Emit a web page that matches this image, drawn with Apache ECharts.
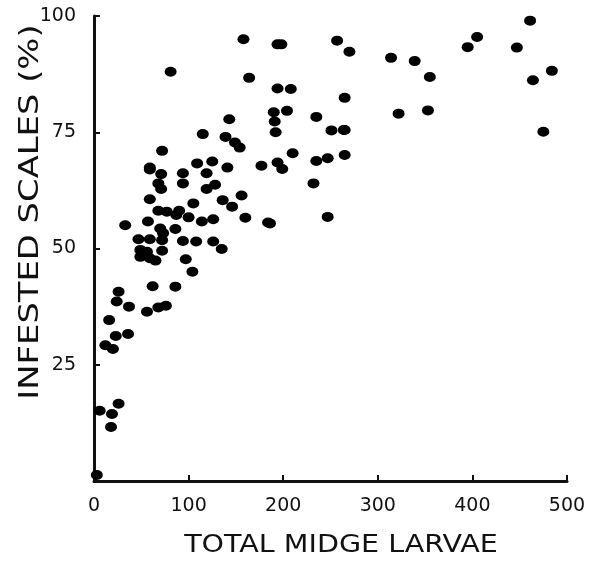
<!DOCTYPE html>
<html>
<head>
<meta charset="utf-8">
<script src="https://cdn.jsdelivr.net/npm/echarts@6/dist/echarts.min.js"></script>
<style>html,body{margin:0;padding:0;background:#fff;}#c{width:591px;height:565px;}</style>
</head>
<body>
<div id="c"></div>
<script>
// Total midge larvae (x) vs infested scales % (y)
const larvae = [
  3, 6, 19, 26, 18,
  12, 20, 23, 36, 16,
  26, 24, 37, 56, 68, 76, 62, 86,
  104, 97, 49, 56, 72, 54, 49, 59, 65,
  47, 59, 72, 94, 108, 126, 135,
  70, 73, 86, 33, 57, 114, 126, 160, 184,
  68, 77, 90, 87, 100,
  105, 136, 146, 156, 59,
  68, 71, 119, 128,
  59, 71, 94, 94, 119,
  59, 109, 125, 141, 177,
  72, 81, 115, 139, 149, 154,
  143, 164, 158,
  194, 199, 232, 247, 265, 186,
  210, 194, 235, 247, 265,
  190, 191, 192, 204, 235, 251, 264, 265,
  194, 208, 322, 353, 355,
  198, 257, 270, 314, 339, 395, 405, 447, 461, 464, 484, 475
];
const infested = [
  1.3, 15.1, 14.4, 16.6, 11.6,
  29.2, 28.4, 31.2, 31.6, 34.6,
  40.7, 38.6, 37.5, 36.4, 37.3, 37.7, 41.9, 41.8,
  45, 47.7, 49.7, 49.3, 49.5, 48.6, 48.2, 47.9, 47.4,
  52, 52, 51.8, 51.6, 51.5, 51.5, 49.9,
  54.3, 53.3, 54.2, 55, 55.8, 55.8, 56.3, 56.6, 55.6,
  58.1, 57.9, 58.1, 57.2, 56.7,
  59.7, 60.4, 59, 61.4, 60.6,
  64, 62.8, 62.8, 63.7,
  67, 66, 66.2, 64, 66.2,
  67.4, 68.3, 68.7, 67.4, 67.8,
  71, 88, 74.6, 74, 72.8, 71.7,
  77.8, 86.7, 95,
  68.5, 67.1, 64, 56.8, 70.1, 55.4,
  70.5, 84.4, 68.8, 69.4, 82.4,
  79.3, 77.3, 75, 79.6, 78.3, 75.4, 75.5, 75.5,
  93.9, 84.3, 79, 79.7, 86.9,
  93.9, 94.7, 92.3, 91, 90.3, 93.3, 95.5, 93.2, 99, 86.2, 88.2, 75.1
];
const xTicks = [0, 100, 200, 300, 400, 500];
const yTicks = [25, 50, 75, 100];
const xTitle = 'TOTAL MIDGE LARVAE';
const yTitle = 'INFESTED SCALES (%)';

const points = larvae.map((x, i) => [x, infested[i]]);
const chart = echarts.init(document.getElementById('c'));
const font = 'DejaVu Sans';
chart.setOption({
  animation: false,
  grid: { left: 94, right: 24, top: 16, bottom: 84, containLabel: false },
  xAxis: {
    type: 'value', min: 0, max: 500, interval: 100,
    axisLine: { show: true, lineStyle: { color: '#111', width: 3 } },
    axisTick: { show: true, inside: true, length: 6, lineStyle: { color: '#111', width: 2 } },
    axisLabel: { margin: 16, fontFamily: font, fontSize: 19, color: '#111',
      formatter: v => xTicks.includes(v) ? String(v) : '' },
    splitLine: { show: false }
  },
  yAxis: {
    type: 'value', min: 0, max: 100, interval: 25,
    axisLine: { show: true, lineStyle: { color: '#111', width: 3 } },
    axisTick: { show: true, inside: true, length: 6, lineStyle: { color: '#111', width: 2 } },
    axisLabel: { margin: 18, fontFamily: font, fontSize: 19, color: '#111',
      formatter: v => yTicks.includes(v) ? String(v) : '' },
    splitLine: { show: false }
  },
  graphic: [{
    type: 'text', x: 341, y: 546, scaleX: 1.19,
    style: { text: xTitle, fontFamily: font, fontSize: 24, fill: '#111',
      align: 'center', verticalAlign: 'middle' }
  }, {
    type: 'text', x: 31, y: 212, rotation: Math.PI / 2, scaleX: 1.3,
    style: { text: yTitle, fontFamily: font, fontSize: 26, fill: '#111',
      align: 'center', verticalAlign: 'middle' }
  }],
  series: [{
    type: 'scatter', data: points, symbol: 'circle', symbolSize: [12, 10],
    itemStyle: { color: '#000', opacity: 1 }
  }]
});
</script>
</body>
</html>
